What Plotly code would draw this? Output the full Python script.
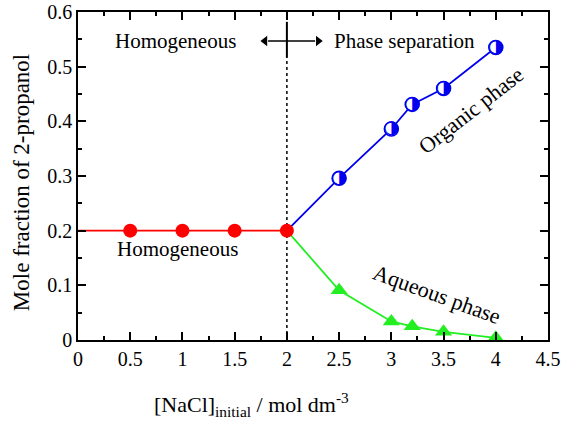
import plotly.graph_objects as go

# Data
homo_line_x = [0, 0.5, 1, 1.5, 2]
homo_line_y = [0.2, 0.2, 0.2, 0.2, 0.2]
homo_x = [0.5, 1, 1.5, 2]
homo_y = [0.2, 0.2, 0.2, 0.2]
org_x = [2, 2.5, 3, 3.2, 3.5, 4]
org_y = [0.2, 0.296, 0.386, 0.431, 0.460, 0.535]
aq_x = [2, 2.5, 3, 3.2, 3.5, 4]
aq_y = [0.2, 0.091, 0.034, 0.025, 0.015, 0.004]
x_ticks = [0, 0.5, 1, 1.5, 2, 2.5, 3, 3.5, 4, 4.5]
x_tick_labels = ["0", "0.5", "1", "1.5", "2", "2.5", "3", "3.5", "4", "4.5"]
y_ticks = [0, 0.1, 0.2, 0.3, 0.4, 0.5, 0.6]
y_tick_labels = ["0", "0.1", "0.2", "0.3", "0.4", "0.5", "0.6"]
boundary_x = 2
arrow_x = [1.79, 2.3]
arrow_y = 0.547

serif = "Liberation Serif"

fig = go.Figure()
# dotted vertical boundary
fig.add_trace(go.Scatter(x=[boundary_x, boundary_x], y=[0, 0.516], mode="lines",
                         line=dict(color="black", width=1.5, dash="dot"),
                         showlegend=False, hoverinfo="skip"))
# solid boundary tick at top
fig.add_trace(go.Scatter(x=[boundary_x, boundary_x], y=[0.516, 0.582], mode="lines",
                         line=dict(color="black", width=2),
                         showlegend=False, hoverinfo="skip"))
# double arrow
fig.add_trace(go.Scatter(x=[arrow_x[0] + 0.03, arrow_x[1] - 0.03], y=[arrow_y, arrow_y],
                         mode="lines", line=dict(color="black", width=1.5),
                         showlegend=False, hoverinfo="skip"))
fig.add_trace(go.Scatter(x=arrow_x, y=[arrow_y, arrow_y], mode="markers",
                         marker=dict(symbol=["triangle-left", "triangle-right"], size=9,
                                     color="black"),
                         showlegend=False, hoverinfo="skip"))

fig.add_trace(go.Scatter(x=org_x, y=org_y, mode="lines",
                         line=dict(color="#0000ee", width=1.8), showlegend=False))
fig.add_trace(go.Scatter(x=aq_x, y=aq_y, mode="lines",
                         line=dict(color="#22ee22", width=1.8), showlegend=False))
fig.add_trace(go.Scatter(x=aq_x[1:], y=aq_y[1:], mode="markers",
                         marker=dict(symbol="triangle-up", size=15, color="#22ee22"),
                         showlegend=False))
fig.add_trace(go.Scatter(x=homo_line_x, y=homo_line_y, mode="lines",
                         line=dict(color="#ff0000", width=1.8), showlegend=False))
fig.add_trace(go.Scatter(x=homo_x, y=homo_y, mode="markers",
                         marker=dict(symbol="circle", size=14, color="#ff0000"),
                         showlegend=False))
# half-filled circles for organic phase
fig.add_trace(go.Scatter(x=org_x[1:], y=org_y[1:], mode="markers",
                         marker=dict(symbol="circle", size=14, color="white",
                                     line=dict(color="#0000ee", width=1.5)),
                         showlegend=False))
fig.add_trace(go.Scatter(x=org_x[1:], y=org_y[1:], mode="text",
                         text=["◑"] * (len(org_x) - 1), textposition="middle center",
                         textfont=dict(family="DejaVu Sans", size=18, color="#0000ee"),
                         showlegend=False, hoverinfo="skip"))

tf = dict(family=serif, size=21, color="black")
fig.add_annotation(x=0.93, y=0.547, text="Homogeneous", showarrow=False, font=tf)
fig.add_annotation(x=3.13, y=0.547, text="Phase separation", showarrow=False, font=tf)
fig.add_annotation(x=0.95, y=0.166, text="Homogeneous", showarrow=False, font=tf)
fig.add_annotation(x=3.76, y=0.42, text="Organic phase", showarrow=False,
                   font=dict(family=serif, size=22, color="black"), textangle=-38)
fig.add_annotation(x=3.44, y=0.083, text="Aqueous phase", showarrow=False,
                   font=dict(family=serif, size=22, color="black"), textangle=20)
# x-axis title (offset to the left as in the reference)
fig.add_annotation(xref="paper", yref="paper", x=0.37, y=-0.198,
                   xanchor="center", yanchor="middle",
                   text="[NaCl]<sub>initial</sub> / mol dm<sup>-3</sup>", showarrow=False,
                   font=dict(family=serif, size=22, color="black"))
# y-axis title
fig.add_annotation(xref="paper", yref="paper", x=-0.12, y=0.48,
                   xanchor="center", yanchor="middle", textangle=-90,
                   text="Mole fraction of 2-propanol", showarrow=False,
                   font=dict(family=serif, size=23, color="black"))

axis_common = dict(showline=True, linecolor="black", linewidth=1.5, mirror="allticks",
                   ticks="inside", ticklen=8, tickwidth=1.5, tickcolor="black",
                   showgrid=False, zeroline=False, automargin=False,
                   tickfont=dict(family=serif, size=20, color="black"))
fig.update_xaxes(range=[0, 4.5], tickvals=x_ticks, ticktext=x_tick_labels,
                 minor=dict(dtick=0.25, ticks="inside", ticklen=4, tickwidth=1.5,
                            tickcolor="black", showgrid=False),
                 **axis_common)
fig.update_yaxes(range=[0, 0.6], tickvals=y_ticks, ticktext=y_tick_labels,
                 minor=dict(dtick=0.05, ticks="inside", ticklen=4, tickwidth=1.5,
                            tickcolor="black", showgrid=False),
                 **axis_common)
fig.update_layout(width=564, height=426, margin=dict(l=78, r=16, t=12, b=86),
                  plot_bgcolor="white", paper_bgcolor="white", showlegend=False)
fig.write_html("out.html")
